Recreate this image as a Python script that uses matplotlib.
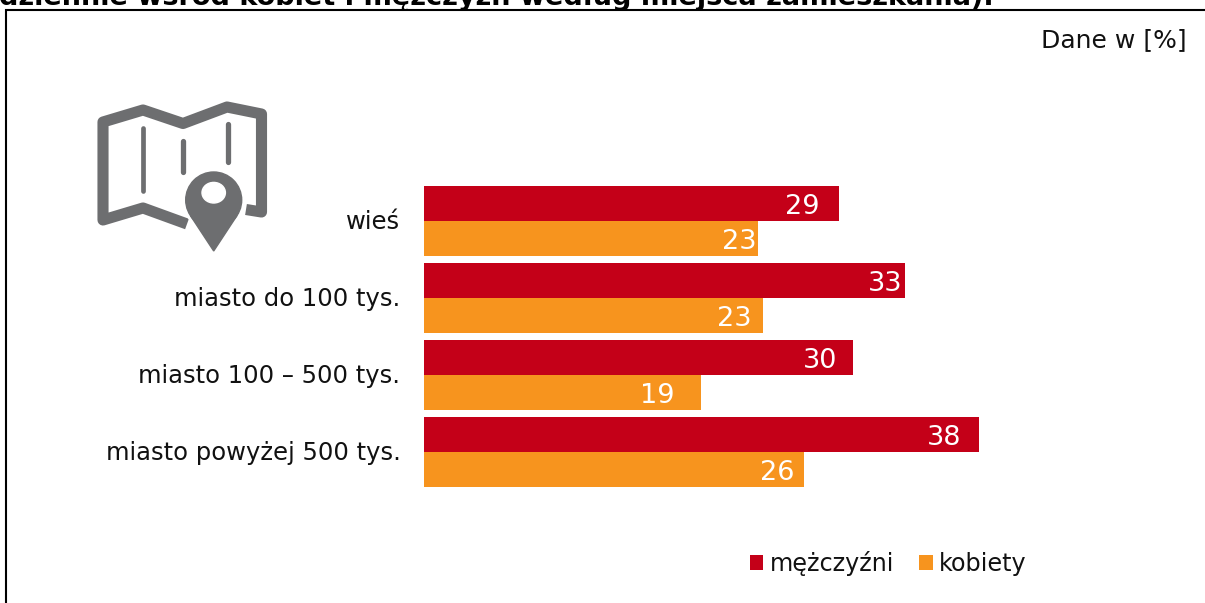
import matplotlib
matplotlib.use("Agg")
import matplotlib.pyplot as plt
from matplotlib.lines import Line2D
from matplotlib.patches import Circle, Ellipse, Polygon
from matplotlib.transforms import ScaledTranslation

plt.rcParams['font.family'] = ['DejaVu Sans']

categories = ["wieś", "miasto do 100 tys.", "miasto 100 – 500 tys.", "miasto powyżej 500 tys."]
men_values = [28.4, 32.95, 29.4, 38]
women_values = [22.9, 23.2, 19, 26]
men_labels = ["29", "33", "30", "38"]
women_labels = ["23", "23", "19", "26"]
series_names = ["mężczyźni", "kobiety"]
title_text = "dziennie wśród kobiet i mężczyzn według miejsca zamieszkania)."
unit_text = "Dane w [%]"

# label placement: gap between the bar end and the label's right edge, in pixels
men_gaps = [19, 3, 16, 17]
women_gaps = [2, 11, 27, 9]

W, H = 1205, 603
RED, ORANGE, GREY = "#c40018", "#f7941e", "#6d6e70"
INK = "#111111"
fig = plt.figure(figsize=(W / 100, H / 100), dpi=100, facecolor="white")

def px_rect(l, t, r, b):
    return [l / W, 1 - b / H, (r - l) / W, (b - t) / H]

# overlay in pixel coordinates for frame and icon
ov = fig.add_axes([0, 0, 1, 1], zorder=0)
ov.set_xlim(0, W); ov.set_ylim(H, 0); ov.axis("off")
ov.add_line(Line2D([6, 6, W], [H, 10, 10], color="black", lw=1.5, solid_joinstyle="miter"))
stroke = dict(color=GREY, lw=8, solid_joinstyle="round", solid_capstyle="butt")
ov.plot([246, 261.5, 261.5, 227, 183, 143, 103, 103, 143, 187],
        [209.5, 212, 114, 107, 123.5, 110, 122, 220, 208, 224], **stroke)
for x, y0, y1, lw in [(143, 128, 191, 3.4), (183, 141, 172, 3.8), (227.5, 124, 162, 3.8)]:
    ov.plot([x, x], [y0, y1], color=GREY, lw=lw, solid_capstyle="round")
ov.add_patch(Circle((213.7, 200), 31, color="white", zorder=3))
ov.add_patch(Polygon([(190.3, 215.4), (237.1, 215.4), (213.7, 251)], color=GREY, zorder=4))
ov.add_patch(Circle((213.7, 200), 28, color=GREY, zorder=4))
ov.add_patch(Ellipse((213.7, 192.7), 23.4, 20.6, color="white", zorder=5))

# chart
ax = fig.add_axes(px_rect(424, 182.3, 1008, 490.3), zorder=1)
ax.patch.set_alpha(0)
h = 35 / 77
ypos = list(range(len(categories)))
b1 = ax.barh([y - h / 2 for y in ypos], men_values, height=h, color=RED, label=series_names[0])
b2 = ax.barh([y + h / 2 for y in ypos], women_values, height=h, color=ORANGE, label=series_names[1])
ax.set_xlim(0, 40)
ax.set_ylim(3.5, -0.5)
ax.set_xticks([])
ax.set_yticks(ypos, categories, fontsize=17.45, color=INK)
ax.tick_params(axis="y", length=0, pad=17)
shift = ScaledTranslation(0, 1 / 100, fig.dpi_scale_trans)
for t in ax.get_yticklabels():
    t.set_transform(t.get_transform() + shift)
for s in ax.spines.values():
    s.set_visible(False)

for bars, labels, gaps in ((b1, men_labels, men_gaps), (b2, women_labels, women_gaps)):
    for r, lab, g in zip(bars, labels, gaps):
        ax.annotate(lab, (r.get_width(), r.get_y() + r.get_height() / 2),
                    xytext=(-g * 0.72, -0.7), textcoords="offset points",
                    ha="right", va="center_baseline", color="white", fontsize=19.5)

fig.text(-1 / W, 1 - 5 / H, title_text, fontsize=19.5, fontweight="bold", color="black", ha="left", va="baseline")
fig.text(1187 / W, 1 - 40.5 / H, unit_text, fontsize=18, color=INK, ha="right", va="center")

fig.legend(handles=[b1, b2], labels=series_names, loc="center left",
           bbox_to_anchor=(728 / W, 1 - 563 / H), ncol=2, frameon=False, fontsize=17.2,
           handlelength=0.586, handleheight=0.586, handletextpad=0.25, columnspacing=1.05,
           labelcolor=INK)

fig.savefig("out.png", dpi=100)
